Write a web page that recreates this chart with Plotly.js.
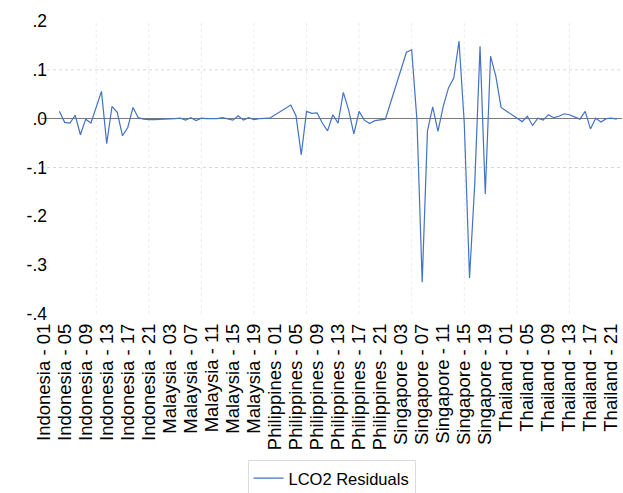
<!DOCTYPE html>
<html>
<head>
<meta charset="utf-8">
<script src="https://cdn.plot.ly/plotly-3.0.1.min.js"></script>
<style>html,body{margin:0;padding:0;background:#fff;}#chart{width:623px;height:493px;}</style>
</head>
<body>
<div id="chart"></div>
<script>
const countries = ["Indonesia", "Malaysia", "Philippines", "Singapore", "Thailand"];
const periods = ["01","02","03","04","05","06","07","08","09","10","11","12","13","14","15","16","17","18","19","20","21","22"];

const indonesia = [null,null,null,0.015,-0.0075,-0.009,0.007,-0.033,-0.001,-0.009,0.022,0.056,-0.051,0.025,0.013,-0.035,-0.018,0.023,0.002,-0.001,-0.002,-0.002];
const malaysia = [null,null,null,0.000,0.001,-0.003,0.002,-0.004,0.001,0.000,0.000,0.000,0.002,0.000,-0.003,0.006,-0.003,0.002,-0.002,0.000,0.000,0.001];
const philippines = [null,null,null,0.028,0.006,-0.074,0.015,0.011,0.012,-0.009,-0.025,0.008,-0.009,0.054,0.018,-0.031,0.015,-0.003,-0.010,-0.004,-0.002,-0.001];
const singapore = [null,null,null,0.136,0.141,-0.003,-0.335,-0.025,0.024,-0.026,0.025,0.063,0.083,0.159,-0.009,-0.326,-0.132,0.148,-0.154,0.128,0.087,0.023];
const thailand = [null,null,null,-0.006,0.005,-0.014,0.001,-0.003,0.008,0.002,0.005,0.010,0.008,0.004,-0.001,0.015,-0.021,0.001,-0.007,0.000,0.001,-0.001];

const yTickVals = [0.2, 0.1, 0, -0.1, -0.2, -0.3, -0.4];
const yTickText = [".2", ".1", ".0", "-.1", "-.2", "-.3", "-.4"];
const yGridVals = [0.1, -0.1];
const xGridEvery = 10;
const xTickEvery = 4;

const categories = [];
countries.forEach(c => periods.forEach(p => categories.push(c + " - " + p)));
const residuals = [].concat(indonesia, malaysia, philippines, singapore, thailand);
const xTickVals = categories.filter((_, i) => i % xTickEvery === 0);

const shapes = [];
categories.forEach((c, i) => {
  if (i > 0 && i % xGridEvery === 0) {
    shapes.push({type: "line", xref: "x", yref: "paper", x0: c, x1: c, y0: 0, y1: 1,
      line: {color: "#ececec", width: 1, dash: "dot"}, layer: "below"});
  }
});
yGridVals.forEach(v => {
  shapes.push({type: "line", xref: "paper", yref: "y", x0: 0, x1: 1, y0: v, y1: v,
    line: {color: "#d8d8d8", width: 1, dash: "dot"}, layer: "below"});
});

const font = "Liberation Sans, Arial, Helvetica, sans-serif";

Plotly.newPlot("chart", [{
  type: "scatter",
  mode: "lines",
  x: categories,
  y: residuals,
  connectgaps: true,
  name: "LCO2 Residuals",
  line: {color: "#4472c4", width: 1.2}
}], {
  width: 623, height: 493,
  margin: {l: 41, r: 1, t: 21, b: 179},
  paper_bgcolor: "#fff", plot_bgcolor: "#fff",
  font: {family: font, color: "#000"},
  showlegend: true,
  legend: {x: 0.5, xanchor: "center", xref: "paper", yref: "container", y: 0.067, yanchor: "top", orientation: "h",
    bordercolor: "#dcdcdc", borderwidth: 1, font: {size: 16.5, color: "#000"}, itemwidth: 30},
  xaxis: {type: "category", range: [-0.5, 110], showgrid: false, zeroline: false, showline: false, automargin: false,
    tickmode: "array", tickvals: xTickVals, ticktext: xTickVals, tickangle: -90,
    ticks: "", tickfont: {size: 18.5}, ticklabelstandoff: 5},
  yaxis: {range: [-0.4, 0.2], showgrid: false, zeroline: true, zerolinecolor: "#7a7a7a", zerolinewidth: 1,
    showline: false, automargin: false, tickmode: "array", tickvals: yTickVals, ticktext: yTickText,
    ticks: "", tickfont: {size: 17.5}, ticklabelstandoff: -7},
  shapes: shapes
}, {displayModeBar: false, staticPlot: true});
</script>
</body>
</html>
